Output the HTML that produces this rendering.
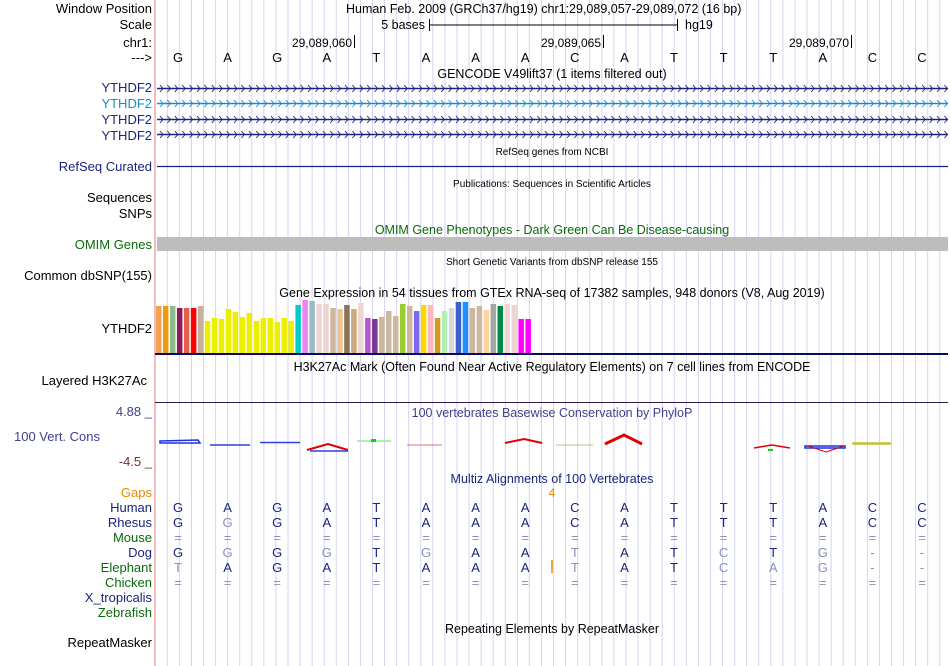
<!DOCTYPE html>
<html><head><meta charset="utf-8"><style>
html,body{margin:0;padding:0;background:#fff;}
svg{display:block;font-family:"Liberation Sans",sans-serif;}
</style></head><body>
<svg id="g" width="950" height="666" viewBox="0 0 950 666">
<rect x="0" y="0" width="950" height="666" fill="#fff"/>
<g id="grid"></g>
<line x1="155" y1="0" x2="155" y2="666" stroke="#f4a6a6" stroke-width="1.5"/>
<g font-size="13" text-anchor="end">
<text x="152" y="13" fill="#000">Window Position</text>
<text x="152" y="29" fill="#000">Scale</text>
<text x="152" y="47" fill="#000">chr1:</text>
<text x="152" y="62" fill="#000">---&gt;</text>
<text x="152" y="92" fill="#1a237e">YTHDF2</text>
<text x="152" y="108" fill="#1e88c8">YTHDF2</text>
<text x="152" y="124" fill="#1a237e">YTHDF2</text>
<text x="152" y="140" fill="#1a237e">YTHDF2</text>
<text x="152" y="171" fill="#1a237e">RefSeq Curated</text>
<text x="152" y="202" fill="#000">Sequences</text>
<text x="152" y="218" fill="#000">SNPs</text>
<text x="152" y="249" fill="#0a6a0a">OMIM Genes</text>
<text x="152" y="280" fill="#000">Common dbSNP(155)</text>
<text x="152" y="333" fill="#000">YTHDF2</text>
<text x="147" y="385" fill="#000">Layered H3K27Ac</text>
<text x="152" y="416" fill="#404090">4.88 _</text>
<text x="100" y="441" fill="#404090">100 Vert. Cons</text>
<text x="152" y="466" fill="#7a3030">-4.5 _</text>
<text x="152" y="497" fill="#e88a00">Gaps</text>
<text x="152" y="512" fill="#1a237e">Human</text>
<text x="152" y="527" fill="#1a237e">Rhesus</text>
<text x="152" y="542" fill="#0a6a0a">Mouse</text>
<text x="152" y="557" fill="#1a237e">Dog</text>
<text x="152" y="572" fill="#0a6a0a">Elephant</text>
<text x="152" y="587" fill="#0a6a0a">Chicken</text>
<text x="152" y="602" fill="#1a237e">X_tropicalis</text>
<text x="152" y="617" fill="#0a6a0a">Zebrafish</text>
<text x="152" y="647" fill="#000">RepeatMasker</text>
</g>
<g font-size="12.5">
<text x="346" y="13" fill="#000">Human Feb. 2009 (GRCh37/hg19)   chr1:29,089,057-29,089,072 (16 bp)</text>
<text x="425" y="29" text-anchor="end" fill="#000">5 bases</text>
<line x1="429.5" y1="19" x2="429.5" y2="31" stroke="#000"/>
<line x1="430" y1="25" x2="677" y2="25" stroke="#000"/>
<line x1="677.5" y1="19" x2="677.5" y2="31" stroke="#000"/>
<text x="685" y="29" fill="#000">hg19</text>
<text x="352" y="47" text-anchor="end" fill="#000" font-size="12">29,089,060</text>
<line x1="354.5" y1="35" x2="354.5" y2="48" stroke="#000"/>
<text x="601" y="47" text-anchor="end" fill="#000" font-size="12">29,089,065</text>
<line x1="603.5" y1="35" x2="603.5" y2="48" stroke="#000"/>
<text x="849" y="47" text-anchor="end" fill="#000" font-size="12">29,089,070</text>
<line x1="851.5" y1="35" x2="851.5" y2="48" stroke="#000"/>
</g>
<g id="bases" font-size="13" text-anchor="middle"></g>
<g font-size="12.5" text-anchor="middle">
<text x="552" y="78" fill="#000">GENCODE V49lift37 (1 items filtered out)</text>
<text x="552" y="155" fill="#000" font-size="10">RefSeq genes from NCBI</text>
<text x="552" y="187" fill="#000" font-size="10">Publications: Sequences in Scientific Articles</text>
<text x="552" y="234" fill="#0a6a0a">OMIM Gene Phenotypes - Dark Green Can Be Disease-causing</text>
<text x="552" y="265" fill="#000" font-size="10">Short Genetic Variants from dbSNP release 155</text>
<text x="552" y="297" fill="#000">Gene Expression in 54 tissues from GTEx RNA-seq of 17382 samples, 948 donors (V8, Aug 2019)</text>
<text x="552" y="371" fill="#000">H3K27Ac Mark (Often Found Near Active Regulatory Elements) on 7 cell lines from ENCODE</text>
<text x="552" y="417" fill="#404090">100 vertebrates Basewise Conservation by PhyloP</text>
<text x="552" y="483" fill="#1a237e">Multiz Alignments of 100 Vertebrates</text>
<text x="552" y="633" fill="#000">Repeating Elements by RepeatMasker</text>
</g>
<g id="genes"></g>
<line x1="157" y1="166.5" x2="948" y2="166.5" stroke="#1a237e" stroke-width="1.3"/>
<rect x="157" y="237" width="791" height="14" fill="#bdbdbd"/>
<g id="gtex"></g>
<line x1="155" y1="354" x2="948" y2="354" stroke="#0a0a60" stroke-width="2"/>
<line x1="155" y1="402.5" x2="948" y2="402.5" stroke="#2a1a50" stroke-width="1"/>
<g id="cons" fill="none" stroke-width="1.5">
<path d="M160 441 L198 440 L200 443 L160 443 Z" stroke="#2030e0"/>
<line x1="210" y1="445" x2="250" y2="445" stroke="#3040d0"/>
<line x1="260" y1="442.5" x2="300" y2="442.5" stroke="#3040e0"/>
<path d="M307 450 L328 444 L348 450" stroke="#e00000" stroke-width="2"/>
<line x1="310" y1="451" x2="348" y2="451" stroke="#3040e0"/>
<line x1="357" y1="441" x2="391" y2="441" stroke="#90ee90"/>
<rect x="371" y="439" width="5" height="3" fill="#10d010" stroke="none"/>
<line x1="407" y1="445" x2="442" y2="445" stroke="#e07070" stroke-width="1"/>
<path d="M505 443 L524 439 L542 443" stroke="#e00000" stroke-width="2"/>
<line x1="556" y1="445" x2="593" y2="445" stroke="#c0c080" stroke-width="1"/>
<path d="M605 444 L624 435 L642 444" stroke="#e00000" stroke-width="3"/>
<path d="M754 448 L772 445 L790 448" stroke="#e00000" stroke-width="1.5"/>
<rect x="768" y="449" width="5" height="2" fill="#10d010" stroke="none"/>
<path d="M805 446 L845 446 L845 448 L805 448 Z" stroke="#2030e0"/>
<path d="M808 446 L826 452 L844 446" stroke="#e00000" stroke-width="1"/>
<path d="M853 443 L890 443 L890 444 L853 444 Z" stroke="#c8c030"/>
</g>
<text x="552" y="497" font-size="12" text-anchor="middle" fill="#e88a00">4</text>
<line x1="552" y1="560" x2="552" y2="573" stroke="#e88a00" stroke-width="1.5"/>
<g id="align" font-size="13" text-anchor="middle"></g>
</svg>
<script>
var gtexValues=[47,47,47,45,45,45,47,32,35,34,44,41,36,40,32,35,35,31,35,32,48,53,52,49,49,45,44,48,44,50,35,34,36,42,37,49,47,42,48,48,35,42,45,51,51,45,47,43,49,47,49,48,34,34];
var gtexColors=['#f2a152','#f09a10','#8cbb8c','#8b1a5a','#e8604a','#ff0000','#c8b09a','#eeee00','#eeee00','#eeee00','#eeee00','#eeee00','#eeee00','#eeee00','#eeee00','#eeee00','#eeee00','#eeee00','#eeee00','#eeee00','#00cccc','#ee82ee','#9ab8c8','#eed5d2','#eed5d2','#cdb79e','#eec591','#8b7355','#cdaa7d','#eed5d2','#b45ad0','#7a378b','#cdb79e','#cdb79e','#cdb79e','#9acd32','#cdb79e','#7b68ee','#ffd700','#ffb6c1','#cd9b1d','#b4eeb4','#d9d9d9','#3a5fcd','#1e90ff','#cdb79e','#cdb79e','#ffd39b','#a6a6a6','#008b45','#eed5d2','#eed5d2','#ff00ff','#ff00ff'];
var baseSeq="GAGATAAACATTTACC";
var alignRows=["GAGATAAACATTTACC","GGGATAAACATTTACC","================","GGGGTGAATATCTG--","TAGATAAATATCAG--","================"];
var alignLight=["","1","0123456789abcdef","1358bdef","08bcdef","0123456789abcdef"];
var alignY=[512,527,542,557,572,587];

var NS="http://www.w3.org/2000/svg";
function mk(t,a,p){var e=document.createElementNS(NS,t);for(var k in a)e.setAttribute(k,a[k]);p.appendChild(e);return e;}
var grid=document.getElementById('grid');
for(var x=167.3;x<949;x+=12.07){
  var l=mk('line',{x1:x,y1:0,x2:x,y2:666,stroke:'#d4d4f2','stroke-width':1},grid);
  
  
}
function bx(i){return 178+i*49.6;}
var bg=document.getElementById('bases');
for(var i=0;i<16;i++){
  var t=mk('text',{x:bx(i),y:62,fill:'#000'},bg);t.textContent=baseSeq[i];
  
  
}
var genes=document.getElementById('genes');
var gy=[88,103,119,134],gc=['#1a237e','#1e88c8','#1a237e','#1a237e'];
for(var r=0;r<4;r++){
  var g=mk('g',{stroke:gc[r],fill:'none','stroke-width':0.9},genes);
  
  
  mk('line',{x1:157,y1:gy[r]+.5,x2:948,y2:gy[r]+.5,'stroke-width':1.5},g);
  var d='';
  for(var x=160;x<946;x+=7.4){d+='M'+x+' '+(gy[r]-3)+' L'+(x+3)+' '+(gy[r]+.5)+' L'+x+' '+(gy[r]+4)+' ';}
  mk('path',{d:d},g);
}
var gt=document.getElementById('gtex');
var base=353,step=6.97;
for(var i=0;i<gtexValues.length;i++){
  var rr=mk('rect',{x:156+i*step,y:base-gtexValues[i],width:5.5,height:gtexValues[i],fill:gtexColors[i]},gt);
  
  
}
var al=document.getElementById('align');
var hx='0123456789abcdef';
for(var r=0;r<alignRows.length;r++){
  for(var i=0;i<16;i++){
    var light=alignLight[r].indexOf(hx[i])>=0;
    var t=mk('text',{x:bx(i),y:alignY[r],fill:light?'#8a90bb':'#1a237e'},al);
    t.textContent=alignRows[r][i];
    
    
  }
}
</script>
</body></html>
